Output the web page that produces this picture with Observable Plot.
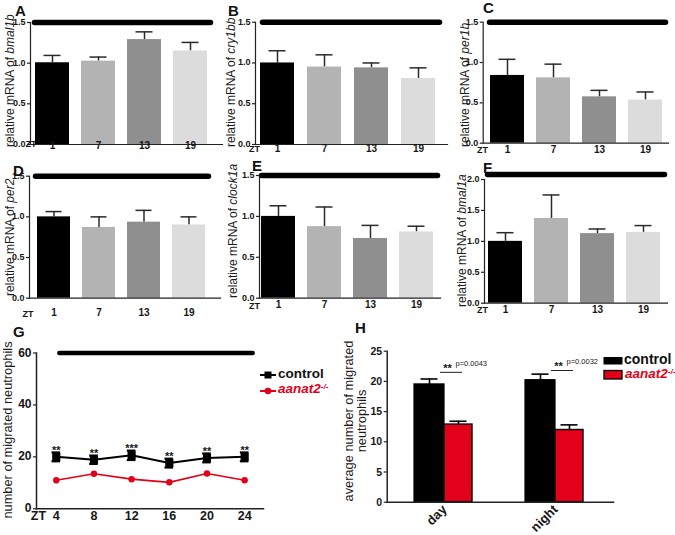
<!DOCTYPE html>
<html><head><meta charset="utf-8">
<script src="https://cdn.jsdelivr.net/npm/d3@7"></script>
<script src="https://cdn.jsdelivr.net/npm/@observablehq/plot@0.6"></script>
<style>
body{margin:0;background:#fff;}
#fig{position:relative;width:675px;height:535px;overflow:hidden;font-family:"Liberation Sans",Arial,Helvetica,sans-serif;color:#111;}
#fig > svg{position:absolute;}
.letter{position:absolute;font-size:15px;font-weight:bold;line-height:1;}
.rot{position:absolute;transform:translate(-50%,-50%) rotate(-90deg);white-space:nowrap;line-height:1.05;color:#1a1a1a;}
.leg{position:absolute;line-height:1;font-weight:bold;white-space:nowrap;}
.leg svg{position:absolute;}
.leg sup{font-size:0.6em;vertical-align:0;position:relative;top:-0.55em;}
.ytick{position:absolute;transform:translate(-100%,-50%);font-weight:bold;line-height:1;white-space:nowrap;color:#161616;z-index:5;}
</style>
</head><body>
<div id="fig"></div>
<script>
// ---------- data ----------
const ztGene = ["1", "7", "13", "19"];
const barGrays = ["#000000", "#b3b3b3", "#8f8f8f", "#dcdcdc"];
const geneNames = ["bmal1b", "cry1bb", "per1b", "per2", "clock1a", "bmal1a"];
const panelLetters = ["A", "B", "C", "D", "E", "F"];
const bmal1bMean = [1.005, 1.025, 1.29, 1.15];
const bmal1bSem  = [0.09, 0.05, 0.095, 0.105];
const cry1bbMean = [1.0, 0.95, 0.94, 0.81];
const cry1bbSem  = [0.15, 0.15, 0.06, 0.13];
const per1bMean  = [0.84, 0.81, 0.575, 0.535];
const per1bSem   = [0.2, 0.17, 0.08, 0.1];
const per2Mean   = [1.0, 0.87, 0.935, 0.9];
const per2Sem    = [0.065, 0.13, 0.145, 0.1];
const clock1aMean = [1.0, 0.875, 0.73, 0.81];
const clock1aSem  = [0.13, 0.24, 0.16, 0.07];
const bmal1aMean = [1.0, 1.37, 1.125, 1.145];
const bmal1aSem  = [0.14, 0.38, 0.075, 0.11];
const geneDarkLevel = [1.5, 1.5, 1.5, 1.5, 1.5, 2.08];
const geneTicks15 = [0, 0.5, 1.0, 1.5];
const geneTicks20 = [0, 0.5, 1.0, 1.5, 2.0];

const ztMig = [4, 8, 12, 16, 20, 24];
const migControl = [20.0, 18.9, 20.6, 17.6, 19.6, 20.0];
const migControlSem = [1.7, 1.6, 1.8, 1.7, 1.7, 1.7];
const migAanat = [11.0, 13.5, 11.4, 10.2, 13.6, 11.0];
const migStars = ["**", "**", "***", "**", "**", "**"];
const migDarkLevel = 60;
const migTicks = [0, 20, 40, 60];

const periods = ["day", "night"];
const avgControl = [19.5, 20.2];
const avgControlSem = [0.9, 1.0];
const avgAanat = [12.85, 11.95];
const avgAanatSem = [0.55, 0.85];
const sigLevel = [21.5, 21.8];
const sigStars = ["**", "**"];
const pValues = ["p=0.0043", "p=0.0032"];
const avgTicks = [0, 5, 10, 15, 20, 25];

const RED = "#e2001a";
const FONT = '"Liberation Sans", Arial, Helvetica, sans-serif';

// ---------- layout helpers ----------
const fig = document.getElementById("fig");
const pendingTicks = [];
function put(node, left, top) { node.style.position = "absolute"; node.style.left = left + "px"; node.style.top = top + "px"; fig.appendChild(node); }
function letter(t, left, top) { const d = document.createElement("div"); d.className = "letter"; d.textContent = t; put(d, left, top); }
function rotLabel(html, cx, cy, size, width, align) {
  const d = document.createElement("div"); d.className = "rot";
  d.style.fontSize = size + "px"; d.style.width = width + "px"; d.style.textAlign = align;
  d.innerHTML = html; put(d, cx, cy);
}
function baseStyle(fs) {
  return {background: "transparent", overflow: "visible", fontFamily: FONT, fontSize: fs + "px", fontWeight: "bold", color: "#161616"};
}
// y tick marks drawn by Plot; tick labels placed with the chart's own y scale
function yTickMarks(ticks, frameW) {
  return Plot.ruleY(ticks, {y: d => d, insetLeft: -3, insetRight: frameW, stroke: "#222", strokeWidth: 1.2});
}
function yTickLabels(chart, ticks, fmt, fs, left, top, mL) {
  const ys = chart.scale("y");
  ticks.forEach(v => pendingTicks.push({text: fmt(v), x: left + mL - 4.5, y: top + ys.apply(v), fs}));
}

// ---------- panels A-F ----------
const geneMeans = [bmal1bMean, cry1bbMean, per1bMean, per2Mean, clock1aMean, bmal1aMean];
const geneSems = [bmal1bSem, cry1bbSem, per1bSem, per2Sem, clock1aSem, bmal1aSem];
const geneCfg = [
  {left: 0,   top: 0,   w: 225, h: 160, mL: 30,   mR: 3,  mT: 22,   mB: 16,   xr: [27.6, 214.9], yMax: 1.5, din: [4.5, 11.5], labDy: 4.5, zt: [0.5, 2],  lx: 10,  lb: 147, L: [15, 3]},
  {left: 225, top: 0,   w: 225, h: 160, mL: 30,   mR: 3,  mT: 21.7, mB: 16,   xr: [27.2, 217.8], yMax: 1.5, din: [7.5, 7.5],  labDy: 7.7, zt: [-1, 7.5], lx: 231, lb: 147, L: [228, 3]},
  {left: 452, top: 0,   w: 223, h: 160, mL: 30.7, mR: 7,  mT: 21.7, mB: 17.3, xr: [30.2, 216.8], yMax: 1.5, din: [6.8, 2.5],  labDy: 10,  zt: [-0.7, 10], lx: 465, lb: 147, L: [483, 0]},
  {left: 0,   top: 160, w: 225, h: 165, mL: 29,   mR: 5,  mT: 15.7, mB: 27.3, xr: [29.1, 212.4], yMax: 1.5, din: [6.5, 11.5], labDy: 18,  zt: [-1.5, 18.5], lx: 10, lb: 296, L: [13, 163]},
  {left: 225, top: 160, w: 225, h: 160, mL: 34,   mR: 10, mT: 15,   mB: 22.3, xr: [29.25, 215.25], yMax: 1.5, din: [2.5, 2.5], labDy: 10, zt: [-5, 11],  lx: 233, lb: 298, L: [252, 158]},
  {left: 452, top: 160, w: 223, h: 160, mL: 32,   mR: 8,  mT: 19,   mB: 17.3, xr: [28.75, 214.75], yMax: 2.0, din: [3.5, 2.5], labDy: 10, zt: [-2, 10],  lx: 462, lb: 307, L: [483, 160]}
];
const fmt1 = d3.format(".1f");

geneCfg.forEach((c, k) => {
  const data = ztGene.map((z, i) => ({zt: z, mean: geneMeans[k][i], sem: geneSems[k][i], fill: barGrays[i]}));
  const ticks = c.yMax > 1.5 ? geneTicks20 : geneTicks15;
  const chart = Plot.plot({
    width: c.w, height: c.h,
    marginLeft: c.mL, marginRight: c.mR, marginTop: c.mT, marginBottom: c.mB,
    style: baseStyle(9),
    x: {type: "band", domain: ztGene, range: c.xr, paddingInner: 0.27, paddingOuter: 0.135, axis: null},
    y: {domain: [0, c.yMax], axis: null},
    color: {type: "identity"},
    marks: [
      Plot.ruleY([geneDarkLevel[k]], {stroke: "#000", strokeWidth: 5.5, strokeLinecap: "round", insetLeft: c.din[0], insetRight: c.din[1]}),
      Plot.ruleX(data, {x: "zt", y1: "mean", y2: d => d.mean + d.sem, stroke: "#2a2a2a", strokeWidth: 1.5}),
      Plot.tickY(data, {x: "zt", y: d => d.mean + d.sem, stroke: "#2a2a2a", strokeWidth: 1.5, insetLeft: 8.5, insetRight: 8.5}),
      Plot.barY(data, {x: "zt", y: "mean", fill: "fill"}),
      Plot.frame({anchor: "left", stroke: "#222", strokeWidth: 1.2}),
      Plot.frame({anchor: "bottom", stroke: "#222", strokeWidth: 1.2}),
      yTickMarks(ticks, c.w - c.mL - c.mR),
      Plot.text(data, {x: "zt", text: "zt", frameAnchor: "bottom", dy: c.labDy, fontSize: 10}),
      Plot.text(["ZT"], {text: d => d, frameAnchor: "bottom-left", textAnchor: "middle", dx: c.zt[0], dy: c.zt[1], fontSize: 9})
    ]
  });
  put(chart, c.left, c.top);
  yTickLabels(chart, ticks, fmt1, 9, c.left, c.top, c.mL);
  rotLabel(`relative mRNA of <i>${geneNames[k]}</i>`, c.lx, c.lb - 80, 12, 160, "left");
  letter(panelLetters[k], c.L[0], c.L[1]);
});

// ---------- panel G ----------
{
  const gData = ztMig.map((t, i) => ({t, control: migControl[i], sem: migControlSem[i], aanat: migAanat[i], star: migStars[i]}));
  const chart = Plot.plot({
    width: 340, height: 205, marginLeft: 36, marginRight: 77, marginTop: 22.5, marginBottom: 26.7,
    style: baseStyle(12),
    x: {domain: [1.9, 26], axis: null},
    y: {domain: [0, 60], axis: null},
    marks: [
      Plot.ruleY([migDarkLevel], {stroke: "#000", strokeWidth: 4.7, strokeLinecap: "round", insetLeft: 23.4, insetRight: 10.4}),
      Plot.frame({anchor: "left", stroke: "#222", strokeWidth: 1.5}),
      Plot.frame({anchor: "bottom", stroke: "#222", strokeWidth: 1.5}),
      yTickMarks(migTicks, 340 - 36 - 77),
      Plot.text(ztMig, {x: d => d, text: d => String(d), frameAnchor: "bottom", dy: 11, fontSize: 12.5}),
      Plot.text(["ZT"], {text: d => d, frameAnchor: "bottom-left", textAnchor: "middle", dx: 2, dy: 11, fontSize: 12.5}),
      Plot.line(gData, {x: "t", y: "aanat", stroke: RED, strokeWidth: 1.7}),
      Plot.dot(gData, {x: "t", y: "aanat", fill: RED, r: 3.2}),
      Plot.line(gData, {x: "t", y: "control", stroke: "#000", strokeWidth: 2}),
      Plot.ruleX(gData, {x: "t", y1: d => d.control - d.sem, y2: d => d.control + d.sem, stroke: "#000", strokeWidth: 2.4}),
      Plot.ruleY(gData, {y: d => d.control + d.sem, x1: "t", x2: "t", insetLeft: -4.3, insetRight: -4.3, stroke: "#000", strokeWidth: 2.2}),
      Plot.ruleY(gData, {y: d => d.control - d.sem, x1: "t", x2: "t", insetLeft: -4.3, insetRight: -4.3, stroke: "#000", strokeWidth: 2.2}),
      Plot.dot(gData, {x: "t", y: "control", symbol: "square", fill: "#000", r: 4.6}),
      Plot.text(gData, {x: "t", y: d => d.control + d.sem, text: "star", dy: -2, fontSize: 11})
    ]
  });
  put(chart, 0, 330);
  yTickLabels(chart, migTicks, String, 12, 0, 330, 36);
  rotLabel("number of migrated neutrophils", 8, 430, 12.8, 220, "center");
  letter("G", 13, 324);
  const lg = document.createElement("div"); lg.className = "leg";
  lg.innerHTML = `<svg width="18" height="10" style="left:0;top:3px"><line x1="1" x2="17" y1="5" y2="5" stroke="#000" stroke-width="2"/><rect x="5.5" y="1.5" width="7" height="7" fill="#000"/></svg>
  <div style="position:absolute;left:19px;top:0;font-size:13.5px">control</div>
  <svg width="18" height="10" style="left:0;top:19px"><line x1="1" x2="17" y1="5" y2="5" stroke="${RED}" stroke-width="2"/><circle cx="9" cy="5" r="3.3" fill="${RED}"/></svg>
  <div style="position:absolute;left:19px;top:15.5px;font-size:13.5px;color:${RED};font-style:italic">aanat2<sup>-/-</sup></div>`;
  put(lg, 259, 366.5);
}

// ---------- panel H ----------
{
  const hData = periods.map((p, i) => ({p, control: avgControl[i], cSem: avgControlSem[i], aanat: avgAanat[i], aSem: avgAanatSem[i], sig: sigLevel[i], stars: sigStars[i], pval: pValues[i]}));
  const chart = Plot.plot({
    width: 335, height: 205, marginLeft: 46.7, marginRight: 62, marginTop: 20.7, marginBottom: 33.3,
    style: baseStyle(10.5),
    x: {type: "band", domain: periods, range: [47.25, 270.25], paddingInner: 0.48, paddingOuter: 0.24, axis: null},
    y: {domain: [0, 25], axis: null},
    marks: [
      Plot.ruleX(hData, {x: "p", y1: "control", y2: d => d.control + d.cSem, dx: -14, stroke: "#000", strokeWidth: 1.6}),
      Plot.tickY(hData, {x: "p", y: d => d.control + d.cSem, insetLeft: 6.5, insetRight: 34.5, stroke: "#000", strokeWidth: 1.6}),
      Plot.ruleX(hData, {x: "p", y1: "aanat", y2: d => d.aanat + d.aSem, dx: 15, stroke: "#000", strokeWidth: 1.6}),
      Plot.tickY(hData, {x: "p", y: d => d.aanat + d.aSem, insetLeft: 35.5, insetRight: 5.5, stroke: "#000", strokeWidth: 1.6}),
      Plot.barY(hData, {x: "p", y: "control", fill: "#000", stroke: "#000", strokeWidth: 1.2, insetRight: 28}),
      Plot.barY(hData, {x: "p", y: "aanat", fill: RED, stroke: "#111", strokeWidth: 1.5, insetLeft: 30}),
      Plot.tickY(hData, {x: "p", y: "sig", insetLeft: 26, insetRight: 10, stroke: "#222", strokeWidth: 1}),
      Plot.text(hData, {x: "p", y: "sig", text: "stars", dx: 4, dy: -4, fontSize: 11}),
      Plot.text(hData, {x: "p", y: "sig", text: "pval", dx: 12, dy: -9, textAnchor: "start", fontSize: 7.5, fontWeight: "normal"}),
      Plot.frame({anchor: "left", stroke: "#222", strokeWidth: 1.5}),
      Plot.frame({anchor: "bottom", stroke: "#222", strokeWidth: 1.5}),
      yTickMarks(avgTicks, 335 - 46.7 - 62),
      Plot.text(hData, {x: "p", text: "p", frameAnchor: "bottom", rotate: -45, textAnchor: "end", dx: 4, dy: 8, fontSize: 13})
    ]
  });
  put(chart, 340, 330);
  yTickLabels(chart, avgTicks, String, 10.5, 340, 330, 46.7);
  rotLabel("average number of migrated<br>neutrophils", 355, 421, 12.8, 220, "center");
  letter("H", 355, 320);
  const lg = document.createElement("div"); lg.className = "leg";
  lg.innerHTML = `<svg width="20" height="30" style="left:0;top:0"><rect x="0.5" y="5" width="19" height="7.5" fill="#000"/><rect x="1" y="18.5" width="18" height="8.5" fill="${RED}" stroke="#000" stroke-width="1.3"/></svg>
  <div style="position:absolute;left:21px;top:0;font-size:14px">control</div>
  <div style="position:absolute;left:22px;top:15px;font-size:13.5px;color:${RED};font-style:italic">aanat2<sup>-/-</sup></div>`;
  put(lg, 603, 352);
}

// y tick labels, added last so nothing is painted over them
pendingTicks.forEach(t => {
  const d = document.createElement("div"); d.className = "ytick";
  d.style.fontSize = t.fs + "px"; d.textContent = t.text;
  put(d, t.x, t.y);
});
</script>
</body></html>
